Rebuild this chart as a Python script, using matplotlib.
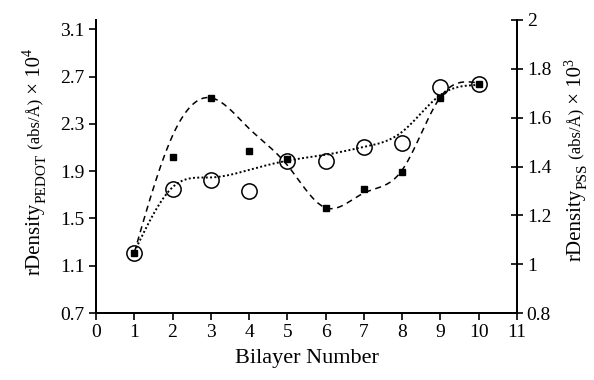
import numpy as np
import matplotlib
matplotlib.use("Agg")
import matplotlib.pyplot as plt

plt.rcParams['font.family'] = ['Liberation Serif', 'DejaVu Serif']

bilayers = [1, 2, 3, 4, 5, 6, 7, 8, 9, 10]
pedot = [1.21, 2.02, 2.52, 2.07, 2.00, 1.585, 1.745, 1.89, 2.52, 2.64]
pss = [1.046, 1.307, 1.345, 1.30, 1.423, 1.424, 1.479, 1.495, 1.725, 1.738]
# smoothed guide curves, values read at each bilayer
pedot_fit = [1.21, 2.2, 2.52, 2.26, 1.95, 1.59, 1.715, 1.909, 2.527, 2.645]
pss_fit = [1.05, 1.315, 1.355, 1.386, 1.424, 1.448, 1.48, 1.542, 1.693, 1.734]
x_ticks = list(range(0, 12))
left_ticks = [0.7, 1.1, 1.5, 1.9, 2.3, 2.7, 3.1]
right_ticks = [0.8, 1.0, 1.2, 1.4, 1.6, 1.8, 2.0]
right_labels = ['0.8', '1', '1.2', '1.4', '1.6', '1.8', '2']


def smooth(x, y, n=400):
    # natural cubic spline through the points
    x = np.asarray(x, float)
    y = np.asarray(y, float)
    k = len(x)
    h = np.diff(x)
    A = np.zeros((k, k))
    b = np.zeros(k)
    A[0, 0] = A[-1, -1] = 1
    for i in range(1, k - 1):
        A[i, i - 1] = h[i - 1]
        A[i, i] = 2 * (h[i - 1] + h[i])
        A[i, i + 1] = h[i]
        b[i] = 6 * ((y[i + 1] - y[i]) / h[i] - (y[i] - y[i - 1]) / h[i - 1])
    m = np.linalg.solve(A, b)
    xs = np.linspace(x[0], x[-1], n)
    j = np.clip(np.searchsorted(x, xs) - 1, 0, k - 2)
    t = xs - x[j]
    hj = h[j]
    c = (y[j + 1] - y[j]) / hj - hj * (2 * m[j] + m[j + 1]) / 6
    ys = y[j] + c * t + m[j] / 2 * t ** 2 + (m[j + 1] - m[j]) / (6 * hj) * t ** 3
    return xs, ys


W, H = 594, 380
fig = plt.figure(figsize=(W / 100, H / 100), dpi=100)
ax = fig.add_axes([96 / W, 1 - 313 / H, (517 - 96) / W, (313 - 20) / H])
ax2 = ax.twinx()

ax.plot(*smooth(bilayers, pedot_fit), color='black', lw=1.1, ls=(0, (4, 3)))
ax2.plot(*smooth(bilayers, pss_fit), color='black', lw=1.4, ls=(0, (1, 1.2)))

ax.plot(bilayers, pedot, ls='none', marker='s', ms=5, color='black')
ax2.plot(bilayers, pss, ls='none', marker='o', ms=11, mfc='none', mec='black', mew=1.1)

ax.set_xlim(0, 11)
ax.set_ylim(0.7, 3.178)
ax2.set_ylim(0.8, 2.0)
ax.set_xticks(x_ticks)
ax.set_yticks(left_ticks)
ax.set_yticklabels([f'{v:.1f}' for v in left_ticks])
ax2.set_yticks(right_ticks)
ax2.set_yticklabels(right_labels)

for a in (ax, ax2):
    a.spines['top'].set_visible(False)
    for s in a.spines.values():
        s.set_linewidth(1.4)
ax.tick_params(axis='both', direction='out', length=5, width=1.2, labelsize=14, pad=3)
ax2.tick_params(axis='y', direction='inout', length=8, width=1.2, labelsize=14, pad=3)

ax.set_xlabel('Bilayer Number', fontsize=16, labelpad=6)

renderer = fig.canvas.get_renderer()


def vlabel(x_base, y_center, parts):
    # stack rotated text pieces bottom to top; shift > 0 lowers (subscript)
    texts = []
    for txt, size, shift in parts:
        t = fig.text(0, 0, txt, fontsize=size, rotation=90, rotation_mode='anchor',
                     ha='left', va='baseline', transform=None)
        texts.append((t, shift))
    lengths = [t.get_window_extent(renderer).height for t, _ in texts]
    y = y_center - sum(lengths) / 2
    for (t, shift), L in zip(texts, lengths):
        t.set_position((x_base + shift, y))
        y += L


vlabel(40, H - 162, [('rDensity', 15, 0), ('PEDOT', 11, 6), (' (abs/Å)', 12, 0),
                     (' × 10', 15, 0), ('4', 10, -8)])
vlabel(581, H - 160, [('rDensity', 15, 0), ('PSS', 11, 6), (' (abs/Å)', 12, 0),
                      (' × 10', 15, 0), ('3', 10, -8)])

fig.savefig('out.png', dpi=100)
